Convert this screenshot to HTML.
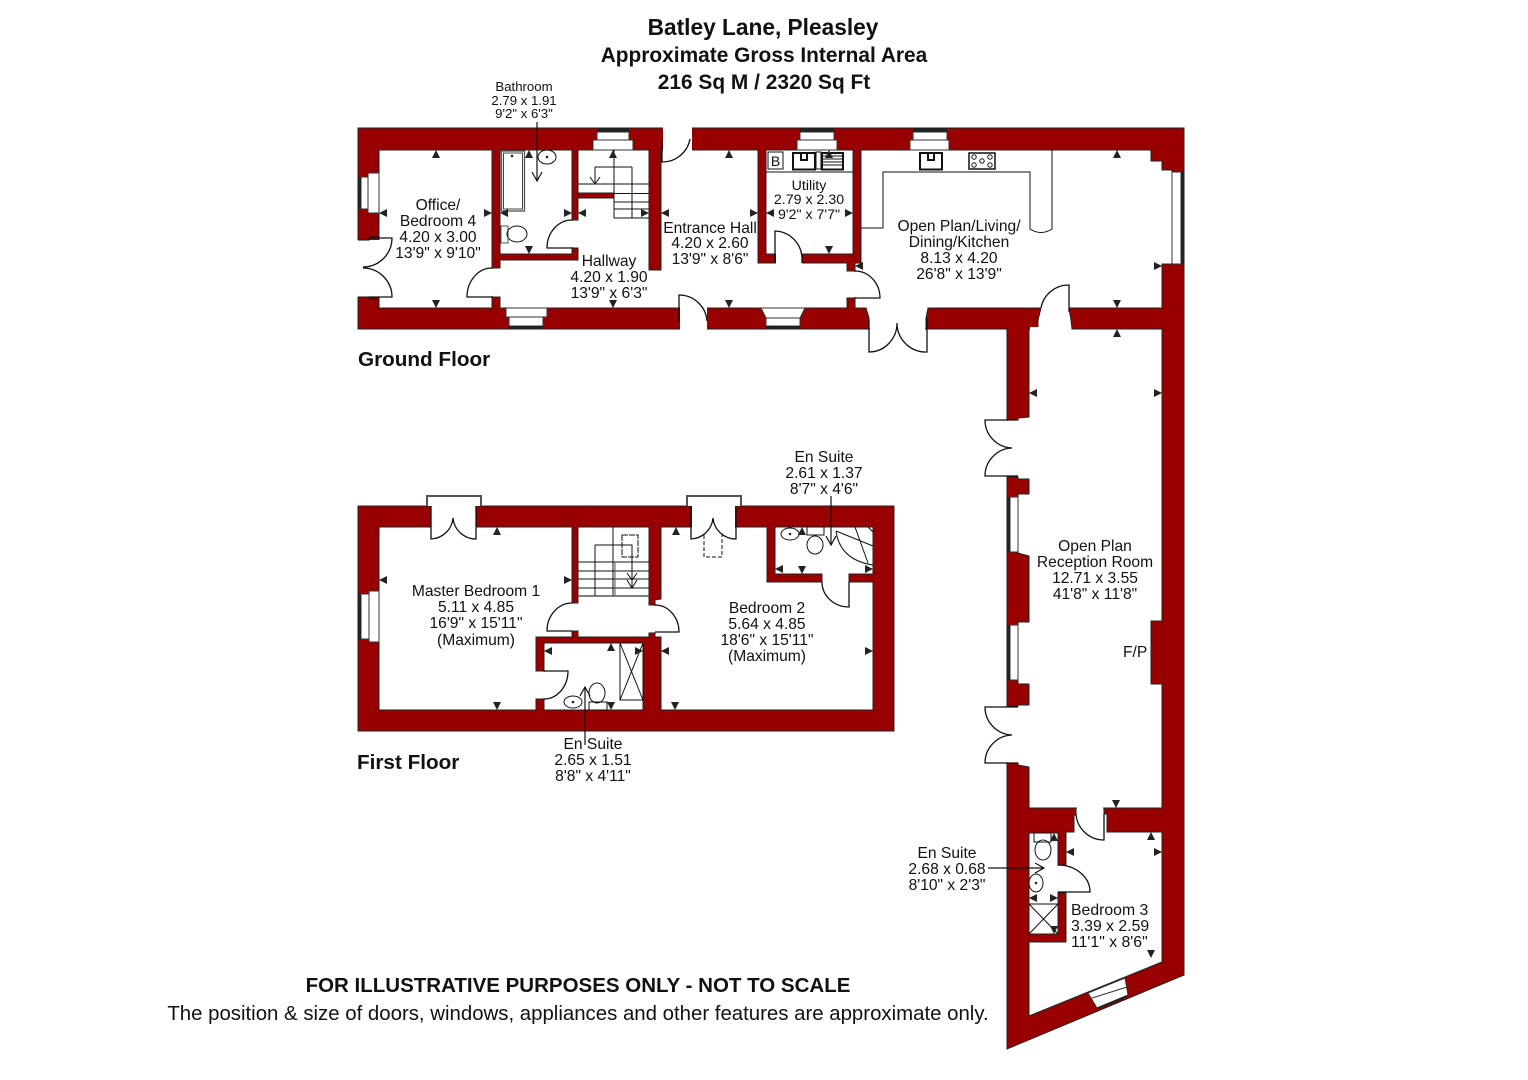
<!DOCTYPE html>
<html><head><meta charset="utf-8"><style>
html,body{margin:0;padding:0;background:#fff}
svg{display:block}
text{font-family:"Liberation Sans",sans-serif;fill:#111}
.w{fill:#fff;stroke:#222;stroke-width:1}
.r{fill:#990000;stroke:#222;stroke-width:1}
.g{fill:#fff;stroke:none}
.l{fill:none;stroke:#111;stroke-width:1.3}
.t{fill:#fff;stroke:#333;stroke-width:1}
.b{fill:#222;stroke:none}
.s{font-size:15.6px;text-anchor:middle}
.u{font-size:14.2px;text-anchor:middle}
.e{font-size:15.6px;text-anchor:middle}
.x{font-size:13.2px;text-anchor:middle}
.h{font-weight:bold;font-size:20.9px;text-anchor:middle}
</style></head><body>
<svg width="1528" height="1080" viewBox="0 0 1528 1080" xmlns="http://www.w3.org/2000/svg">
<rect width="1528" height="1080" fill="#fff"/>

<!-- ground + reception outer -->
<polygon class="r" points="358,128 1184,128 1184,975 1007,1049 1007,329 358,329"/>
<!-- ground rooms -->
<polygon class="w" points="379,150 492,150 492,308 379,308"/>
<polygon class="w" points="500,150 572,150 572,254 500,254"/>
<polygon class="w" points="578,150 649,150 649,270 661,270 661,150 758,150 758,263 847,263 847,271 855,271 855,298 847,298 847,308 500,308 500,297 492,297 492,268 500,268 500,260 578,260 578,248 572,248 572,220 578,220"/>
<polygon class="w" points="766,150 853,150 853,254 766,254"/>
<polygon class="w" points="861,150 1151,150 1151,161 1162,161 1162,170 1172,170 1172,264 1162,264 1162,308 1069,308 1071,320 1072,329 1162,329 1162,621 1151,621 1151,684 1162,684 1162,808 1029,808 1029,767 1018,765 1018,763 1007,763 1007,706 1018,706 1018,705 1029,705 1029,684 1018,684 1018,622 1029,622 1029,556 1018,553 1018,494 1029,494 1029,479 1018,479 1018,477 1007,477 1007,420 1018,420 1018,418 1029,417 1029,329 1038,329 1038,320 1041,308 928,308 926,318 926,329 869,329 869,318 866,308 855,308 855,298 855,271 855,263 861,263"/>
<polygon class="w" points="1074,832 1074,815 1076,815 1076,808 1104,808 1104,814 1107,814 1107,832 1162,832 1162,962 1029,1016 1029,942 1066,942 1066,893 1058,893 1058,865 1066,865 1066,832"/>
<polygon class="w" points="1029,833 1058,833 1058,934 1029,934"/>
<rect class="r" x="578" y="193" width="36" height="5"/>

<!-- gaps -->
<rect class="g" x="357" y="240" width="24" height="57"/>
<polyline class="l" style="stroke-width:1" points="379,237 369,237 369,240 358,240"/>
<polyline class="l" style="stroke-width:1" points="379,299 369,299 369,297 358,297"/>
<rect class="g" x="488" y="269" width="14" height="27"/>
<rect class="g" x="570" y="221" width="10" height="26"/>
<rect class="g" x="663" y="126" width="29" height="25"/>
<rect class="g" x="680" y="305" width="27" height="26"/>
<rect class="g" x="776" y="252" width="26" height="13"/>
<rect class="g" x="850" y="272" width="10" height="25"/>
<rect class="g" x="870" y="306" width="55" height="25"/>
<rect class="g" x="1041" y="306" width="28" height="5"/>
<rect class="g" x="1030" y="327" width="41" height="4"/>
<rect class="g" x="1077" y="805" width="26" height="6"/>
<rect class="g" x="1055" y="866" width="13" height="26"/>
<rect class="g" x="1005" y="421" width="13" height="55"/>
<rect class="g" x="1005" y="707" width="13" height="55"/>

<!-- windows ground -->
<rect class="t" x="368" y="173" width="11" height="40"/><rect class="t" x="361" y="177" width="7" height="32"/><rect class="b" x="358" y="177" width="3" height="32"/>
<rect class="t" x="506" y="308" width="41" height="9"/><rect class="t" x="509" y="317" width="34" height="9"/><rect class="b" x="509" y="326" width="34" height="3"/>
<polygon class="t" points="761,308 805,308 800,318 800,326 766,326 766,318"/><line x1="766" y1="318" x2="800" y2="318" stroke="#333"/><rect class="b" x="766" y="326" width="34" height="3"/>
<rect class="t" x="593" y="140" width="40" height="10"/><rect class="t" x="597" y="132" width="32" height="8"/><rect class="b" x="597" y="128" width="32" height="4"/>
<rect class="t" x="797" y="140" width="40" height="10"/><rect class="t" x="800" y="132" width="34" height="8"/><rect class="b" x="800" y="128" width="34" height="4"/>
<rect class="t" x="910" y="140" width="39" height="10"/><rect class="t" x="913" y="132" width="34" height="8"/><rect class="b" x="913" y="128" width="34" height="4"/>
<rect class="t" x="1172" y="172" width="9" height="92"/><rect class="b" x="1181" y="172" width="3" height="92"/>
<rect class="t" x="1010" y="497" width="8" height="55"/><rect class="b" x="1007" y="497" width="3" height="55"/>
<rect class="t" x="1010" y="625" width="8" height="55"/><rect class="b" x="1007" y="625" width="3" height="55"/>
<polygon class="t" points="1088,993 1125,978 1128,995 1097,1008"/>
<line x1="1092" y1="998" x2="1127" y2="987" stroke="#333"/>
<line x1="1098" y1="1008" x2="1126" y2="997" stroke="#222" stroke-width="2"/>

<!-- doors ground -->
<g class="l">
<path d="M369,238H392A29,29 0 0 1 363,267"/>
<path d="M363,268A29,29 0 0 1 392,297H369"/>
<path d="M492,268A25,29 0 0 0 467,297H492"/>
<path d="M572,220A25,28 0 0 0 547,248H572"/>
<path d="M662,140V162A28,28 0 0 0 690,139"/>
<path d="M679,322V295A28,28 0 0 1 707,321"/>
<path d="M775,263V231A28,28 0 0 1 802,258V263"/>
<path d="M855,271A25,27 0 0 1 880,298H855"/>
<path d="M869,320V352A28,29 0 0 0 897,323A29,29 0 0 0 927,352V318"/>
<path d="M1069,312V285A28,28 0 0 0 1041,308"/>
<path d="M1018,420H985A28,28 0 0 0 1012,448A28,28 0 0 0 985,476H1018"/>
<path d="M1018,707H985A28,28 0 0 0 1012,735A28,28 0 0 0 985,763H1018"/>
<path d="M1104,814V840A28,28 0 0 1 1076,814"/>
<path d="M1058,865A32,27 0 0 1 1090,892H1058"/>
</g>

<!-- ground stairs, kitchen, fixtures -->
<g class="l" style="stroke-width:1">
<path d="M578,184H649M614,193.500H649M614,202H649M614,209H649M614,218H649"/>
<path d="M614,150V218M632,167V218M595,167H632M595,167V184M590,177L595,184L600,177"/>
<path d="M613,150V158M861,228H883V172H1030V229Q1041,236 1052,229V150"/>
<path d="M766,172H853"/>
<rect x="501.500" y="151" width="23" height="60" stroke="#555" stroke-width="1.300"/>
<rect x="503.500" y="153" width="19" height="56" stroke="#444"/>
<ellipse cx="547" cy="157" rx="9" ry="7"/>
<rect x="501" y="226" width="7" height="17" stroke="#555"/><ellipse cx="517" cy="234" rx="10" ry="8"/>
<rect x="768" y="152" width="15" height="17"/>
<rect x="793" y="153" width="22" height="16.500" stroke-width="2"/><path d="M801,153V160H807V153" stroke-width="2"/>
<rect x="816" y="152" width="5" height="17"/>
<rect x="822" y="153" width="21" height="16.500" stroke-width="2"/>
<path d="M823,156H842M823,159H842M823,162H842M823,165H842"/>
<rect x="920" y="153" width="22" height="16.500" stroke-width="2"/><path d="M928,153V160H934V153" stroke-width="2"/>
<rect x="969" y="153" width="26" height="16" stroke-width="1.500"/>
<circle cx="974" cy="157" r="2.200"/><circle cx="990" cy="157" r="2.200"/><circle cx="974" cy="165" r="2.200"/><circle cx="990" cy="165" r="2.200"/><circle cx="982" cy="161" r="2.200"/>
<rect x="1034" y="833" width="17" height="9"/><ellipse cx="1043" cy="850" rx="8" ry="10"/>
<ellipse cx="1036" cy="883" rx="7" ry="9"/>
<path d="M1029,904H1058M1029,934L1058,904M1029,904L1058,934"/>
</g>
<circle cx="512" cy="156" r="1.300" class="b"/><circle cx="547" cy="157" r="1.300" class="b"/><circle cx="1036" cy="883" r="1.300" class="b"/>
<text x="775.500" y="166" style="font-size:14px;text-anchor:middle">B</text>

<!-- FIRST FLOOR -->
<polygon class="r" points="358,506 894,506 894,731 358,731"/>
<polygon class="w" points="379,527 572,527 572,603 578,603 578,527 649,527 649,605 655,605 655,633 649,633 649,637 578,637 578,631 572,631 572,637 536,637 536,671 544,671 544,699 536,699 536,710 379,710"/>
<polygon class="w" points="661,527 767,527 767,582 822,582 822,574 775,574 775,527 873,527 873,574 849,574 849,582 873,582 873,710 661,710 661,637 655,637 655,633 655,605 655,600 661,599"/>
<polygon class="w" points="544,643 643,643 643,710 544,710"/>
<rect class="g" x="570" y="604" width="10" height="26"/>
<rect class="g" x="650" y="606" width="10" height="26"/>
<rect class="g" x="541" y="672" width="6" height="26"/>
<rect class="g" x="431" y="505" width="45" height="23"/>
<rect class="g" x="692" y="505" width="43" height="23"/>
<rect class="g" x="823" y="572" width="25" height="4"/>
<rect class="g" x="823" y="580" width="25" height="4"/>
<path d="M427,506V496H481V506" fill="#fff" stroke="#555" stroke-width="2"/>
<path d="M687,506V496H741V506" fill="#fff" stroke="#555" stroke-width="2"/>
<rect class="t" x="369" y="591" width="10" height="51"/><rect class="t" x="361" y="594" width="8" height="45"/><rect class="b" x="358" y="594" width="3" height="45"/>
<g class="l">
<path d="M431,506V539A23,23 0 0 0 453,518A23,23 0 0 0 476,539V506"/>
<path d="M691,506V539A23,23 0 0 0 713,518A23,23 0 0 0 736,539V506"/>
<path d="M572,603A25,28 0 0 0 547,631H572"/>
<path d="M655,605A24,27 0 0 1 679,632H655"/>
<path d="M544,671H568A24,28 0 0 1 544,699"/>
<path d="M849,582V607A27,25 0 0 1 822,582"/>
</g>
<g class="l" style="stroke-width:1">
<path d="M578,562H649M578,571H649M578,579H649M578,588H649M613,527V596M595,545V596M595,545H632V588M627,573L632,580L637,573M627,580L632,588L637,580"/>
<rect x="622" y="535" width="16" height="22" stroke-dasharray="6 1"/>
<path d="M704,535V557H722V535" stroke-dasharray="4 2"/>
<rect x="620" y="643" width="23" height="57"/><path d="M620,643L643,700M643,643L620,700"/>
<rect x="589" y="702" width="18" height="8"/><ellipse cx="597" cy="693" rx="8" ry="10"/>
<ellipse cx="573" cy="702" rx="9" ry="6"/>
<ellipse cx="790" cy="534" rx="9" ry="6"/>
<rect x="807" y="527" width="17" height="8"/><ellipse cx="815" cy="545" rx="8" ry="9"/>
<path d="M836,531Q840,560 873,565M836,531L873,546M855,527L868,563M868,527L873,532"/>
</g>
<line x1="578" y1="596" x2="649" y2="596" stroke="#555" stroke-width="1.500"/>
<line x1="615" y1="562" x2="615" y2="596" stroke="#555" stroke-width="1"/>
<circle cx="573" cy="702" r="1.300" class="b"/><circle cx="790" cy="534" r="1.300" class="b"/>

<!-- pointers -->
<g class="l" style="stroke-width:1.200">
<path d="M537,122V181M532,172L537,181L542,172"/>
<path d="M831,496V545M826,536L831,545L836,536"/>
<path d="M585,745V687M580,696L585,687L590,696"/>
<path d="M988,868H1044M1035,863L1044,868L1035,873"/>
</g>

<!-- triangles -->
<path class="b" d="M436,150l-4,8h8zM529,150l-4,8h8zM613,150l-4,8h8zM729,150l-4,8h8zM829,150l-4,8h8zM1117,150l-4,8h8zM1117,329l-4,8h8zM497,527l-4,8h8zM676,527l-4,8h8zM802,527l-4,8h8zM611,643l-4,8h8zM1151,832l-4,8h8zM1054,833l-4,8h8z
M436,308l-4,-8h8zM529,254l-4,-8h8zM613,308l-4,-8h8zM729,308l-4,-8h8zM1117,308l-4,-8h8zM829,254l-4,-8h8zM497,710l-4,-8h8zM675,710l-4,-8h8zM802,574l-4,-8h8zM611,710l-4,-8h8zM1116,808l-4,-8h8zM1151,958l-4,-8h8zM1054,934l-4,-8h8z
M379,213l8,-4v8zM500,213l8,-4v8zM578,213l8,-4v8zM661,213l8,-4v8zM766,213l8,-4v8zM855,266l8,-4v8zM1029,393l8,-4v8zM379,580l8,-4v8zM544,651l8,-4v8zM661,651l8,-4v8zM775,569l8,-4v8zM1066,852l8,-4v8zM1029,898l8,-4v8z
M492,213l-8,-4v8zM572,213l-8,-4v8zM649,213l-8,-4v8zM758,213l-8,-4v8zM853,213l-8,-4v8zM1162,266l-8,-4v8zM1162,393l-8,-4v8zM572,580l-8,-4v8zM643,651l-8,-4v8zM873,569l-8,-4v8zM873,651l-8,-4v8zM1162,852l-8,-4v8zM1058,898l-8,-4v8z"/>

<!-- title -->
<text class="h" x="763" y="35" style="font-size:22.7px">Batley Lane, Pleasley</text>
<text class="h" x="764" y="62">Approximate Gross Internal Area</text>
<text class="h" x="764" y="89">216 Sq M / 2320 Sq Ft</text>

<!-- labels -->
<text class="x" x="524" y="91">Bathroom</text><text class="x" x="524" y="105">2.79 x 1.91</text><text class="x" x="524" y="118">9'2" x 6'3"</text>
<text class="s" x="438" y="210">Office/</text><text class="s" x="438" y="226">Bedroom 4</text><text class="s" x="438" y="242">4.20 x 3.00</text><text class="s" x="438" y="258">13'9" x 9'10"</text>
<text class="s" x="609" y="266">Hallway</text><text class="s" x="609" y="282">4.20 x 1.90</text><text class="s" x="609" y="298">13'9" x 6'3"</text>
<text class="s" x="710" y="233">Entrance Hall</text><text class="s" x="710" y="248">4.20 x 2.60</text><text class="s" x="710" y="264">13'9" x 8'6"</text>
<text class="u" x="809" y="190">Utility</text><text class="u" x="809" y="204">2.79 x 2.30</text><text class="u" x="809" y="219">9'2" x 7'7"</text>
<text class="s" x="959" y="231">Open Plan/Living/</text><text class="s" x="959" y="247">Dining/Kitchen</text><text class="s" x="959" y="263">8.13 x 4.20</text><text class="s" x="959" y="279">26'8" x 13'9"</text>
<text class="s" x="1095" y="551">Open Plan</text><text class="s" x="1095" y="567">Reception Room</text><text class="s" x="1095" y="583">12.71 x 3.55</text><text class="s" x="1095" y="599">41'8" x 11'8"</text>
<text x="1123" y="657" style="font-size:15.6px">F/P</text>
<text class="s" x="476" y="596">Master Bedroom 1</text><text class="s" x="476" y="612">5.11 x 4.85</text><text class="s" x="476" y="628">16'9" x 15'11"</text><text class="s" x="476" y="645">(Maximum)</text>
<text class="s" x="767" y="613">Bedroom 2</text><text class="s" x="767" y="629">5.64 x 4.85</text><text class="s" x="767" y="645">18'6" x 15'11"</text><text class="s" x="767" y="661">(Maximum)</text>
<text class="e" x="824" y="462">En Suite</text><text class="e" x="824" y="478">2.61 x 1.37</text><text class="e" x="824" y="494">8'7" x 4'6"</text>
<text class="e" x="593" y="749">En Suite</text><text class="e" x="593" y="765">2.65 x 1.51</text><text class="e" x="593" y="781">8'8" x 4'11"</text>
<text class="e" x="947" y="858">En Suite</text><text class="e" x="947" y="874">2.68 x 0.68</text><text class="e" x="947" y="890">8'10" x 2'3"</text>
<text x="1071" y="915" style="font-size:15.8px">Bedroom 3</text><text x="1071" y="931" style="font-size:15.8px">3.39 x 2.59</text><text x="1071" y="947" style="font-size:15.8px">11'1" x 8'6"</text>

<text x="358" y="366" style="font-size:20.700px;font-weight:bold">Ground Floor</text>
<text x="357" y="769" style="font-size:20.700px;font-weight:bold">First Floor</text>
<text x="578" y="992" style="font-size:20.500px;font-weight:bold;text-anchor:middle">FOR ILLUSTRATIVE PURPOSES ONLY - NOT TO SCALE</text>
<text x="578" y="1020" style="font-size:20.400px;text-anchor:middle">The position &amp; size of doors, windows, appliances and other features are approximate only.</text>
</svg>
</body></html>
